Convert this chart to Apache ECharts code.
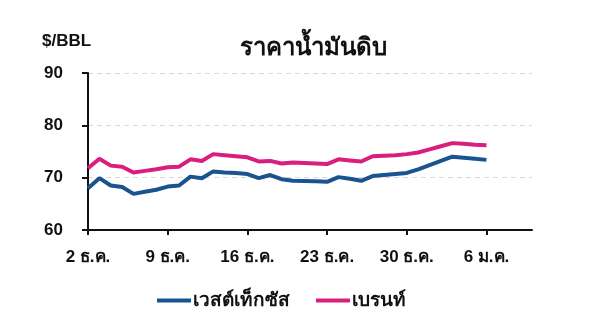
<!DOCTYPE html>
<html><head><meta charset="utf-8">
<script src="https://cdn.jsdelivr.net/npm/echarts@6/dist/echarts.min.js"></script>
<style>html,body{margin:0;padding:0;background:#fff}#c{width:600px;height:314px}</style>
</head><body><div id="c"></div>
<script>
var categories = ['2 ธ.ค.','3 ธ.ค.','4 ธ.ค.','5 ธ.ค.','6 ธ.ค.','7 ธ.ค.','8 ธ.ค.','9 ธ.ค.','10 ธ.ค.','11 ธ.ค.','12 ธ.ค.','13 ธ.ค.','14 ธ.ค.','15 ธ.ค.','16 ธ.ค.','17 ธ.ค.','18 ธ.ค.','19 ธ.ค.','20 ธ.ค.','21 ธ.ค.','22 ธ.ค.','23 ธ.ค.','24 ธ.ค.','25 ธ.ค.','26 ธ.ค.','27 ธ.ค.','28 ธ.ค.','29 ธ.ค.','30 ธ.ค.','31 ธ.ค.','1 ม.ค.','2 ม.ค.','3 ม.ค.','4 ม.ค.','5 ม.ค.','6 ม.ค.','7 ม.ค.','8 ม.ค.','9 ม.ค.','10 ม.ค.'];
var shownLabels = ['2 ธ.ค.','9 ธ.ค.','16 ธ.ค.','23 ธ.ค.','30 ธ.ค.','6 ม.ค.'];
var wti = [68.0,69.9,68.5,68.2,66.9,67.3,67.7,68.3,68.5,70.2,69.9,71.2,71.0,70.9,70.7,69.9,70.5,69.7,69.4,69.35,69.3,69.2,70.1,69.8,69.4,70.3,70.5,70.7,70.9,71.6,72.4,73.2,74.0,73.8,73.6,73.4,null,null,null,null];
var brent = [71.8,73.6,72.3,72.1,71.0,71.3,71.6,72.0,72.1,73.5,73.2,74.5,74.3,74.1,73.9,73.1,73.2,72.7,72.9,72.8,72.7,72.6,73.5,73.3,73.1,74.1,74.2,74.3,74.5,74.8,75.4,76.0,76.6,76.5,76.3,76.2,null,null,null,null];
var seriesNames = ['เวสต์เท็กซัส','เบรนท์'];
var yTicks = [60,70,80,90];

var font = 'Liberation Sans, Arial, Noto Sans, sans-serif';
var chart = echarts.init(document.getElementById('c'));
chart.setOption({
  animation: false,
  title: {
    text: 'ราคาน้ำมันดิบ', left: 308, textAlign: 'center', top: 31,
    textStyle: {fontFamily: font, fontWeight: 'bold', fontSize: 24, color: '#111'}
  },
  graphic: [{type: 'text', left: 42, top: 33, style: {text: '$/BBL', font: 'bold 17px ' + font, fill: '#111'}}],
  legend: {
    left: 152, top: 286, itemWidth: 34, itemHeight: 4, itemGap: 26,
    icon: 'rect',
    textStyle: {fontFamily: font, fontWeight: 'bold', fontSize: 19, color: '#111', padding: [0,0,0,-3]},
    data: seriesNames
  },
  grid: {left: 88, right: 68, top: 73, bottom: 84},
  xAxis: {
    type: 'category', data: categories, boundaryGap: false,
    axisLine: {lineStyle: {color: '#111', width: 2}},
    axisTick: {show: true, length: 5, lineStyle: {color: '#111', width: 2},
      interval: function(i, v){ return shownLabels.indexOf(v) >= 0; }},
    axisLabel: {margin: 19, fontFamily: font, fontWeight: 'bold', fontSize: 17, color: '#111',
      interval: function(i, v){ return shownLabels.indexOf(v) >= 0; }},
    splitLine: {show: false}
  },
  yAxis: {
    type: 'value', min: yTicks[0], max: yTicks[yTicks.length-1], interval: 10,
    axisLine: {show: true, lineStyle: {color: '#111', width: 2}},
    axisTick: {show: true, length: 6, lineStyle: {color: '#111', width: 2}},
    axisLabel: {margin: 25, fontFamily: font, fontWeight: 'bold', fontSize: 17, color: '#111'},
    splitLine: {show: true, lineStyle: {color: '#d8d8d8', type: [5,4], width: 1}}
  },
  series: [
    {name: seriesNames[0], type: 'line', data: wti, symbol: 'none', connectNulls: false,
      lineStyle: {color: '#1a5490', width: 4}, itemStyle: {color: '#1a5490'}},
    {name: seriesNames[1], type: 'line', data: brent, symbol: 'none', connectNulls: false,
      lineStyle: {color: '#d91e7f', width: 4}, itemStyle: {color: '#d91e7f'}}
  ]
});
</script></body></html>
